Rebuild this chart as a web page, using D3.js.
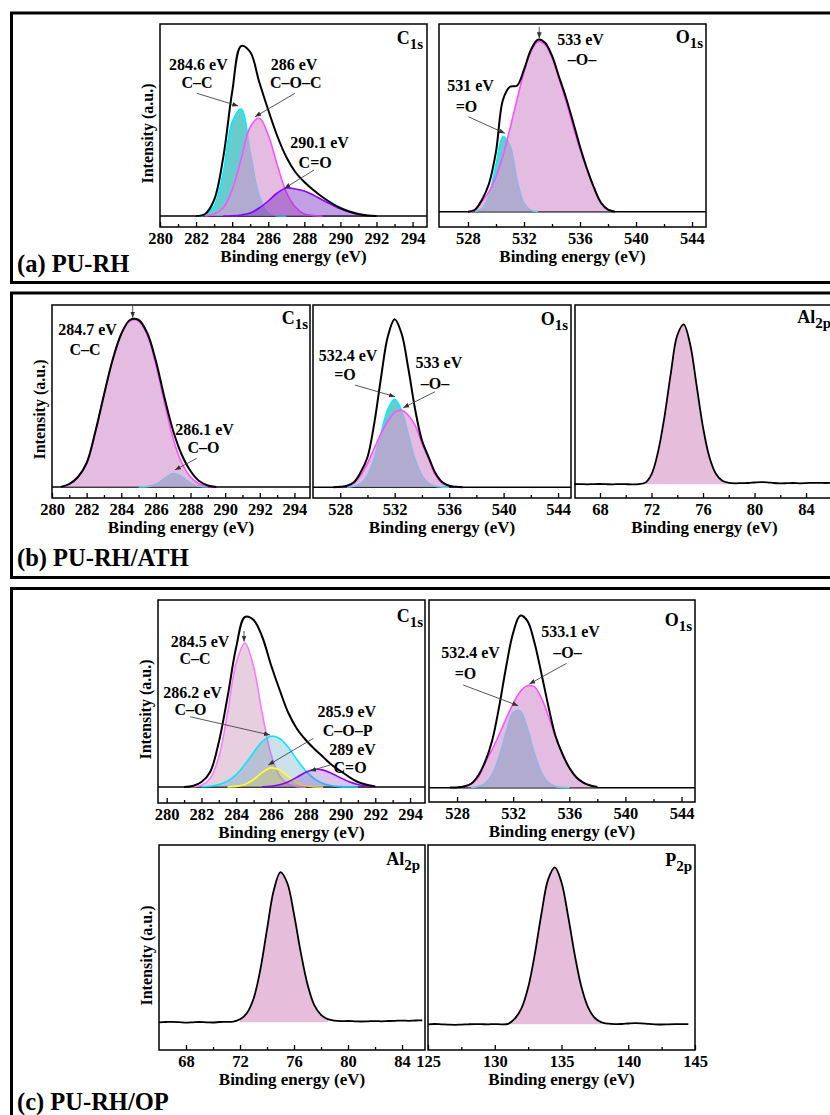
<!DOCTYPE html>
<html>
<head>
<meta charset="utf-8">
<script src="https://cdn.jsdelivr.net/npm/d3@7"></script>
<style>
  body { margin: 0; background: #fff; }
  svg text { font-family: "Liberation Serif", "Times New Roman", serif; font-weight: bold; fill: #000; }
</style>
</head>
<body>
<svg id="fig" width="830" height="1115"></svg>
<script>
// ---- tick values ----
const c1sMajor = [280, 282, 284, 286, 288, 290, 292, 294];
const c1sMinor = [281, 283, 285, 287, 289, 291, 293];
const o1sMajor = [528, 532, 536, 540, 544];
const o1sMinor = [530, 534, 538, 542];
const al2pMajor = [68, 72, 76, 80, 84];
const al2pMinor = [70, 74, 78, 82];
const p2pMajor = [125, 130, 135, 140, 145];
const p2pMinor = [127.5, 132.5, 137.5, 142.5];

// ---- (a) PU-RH, C1s ----
const aC1sEnergy = [282, 282.5, 283, 283.5, 284, 284.5, 285, 285.5, 286, 286.5, 287, 287.5, 288, 288.5, 289, 289.5, 290, 290.5, 291, 291.5, 292];
const aC1sEnvelope = [0, 2, 16, 58, 124, 170, 164, 134, 106, 80, 59, 44, 34, 26, 19, 13, 8, 4.5, 2, 0.5, 0];
const aC1sCC = [0, 1, 10, 43, 94, 107, 64, 20, 3, 0.3, 0, null, null, null, null, null, null, null, null, null, null];
const aC1sCOC = [null, 0, 2, 8, 26, 57, 89, 98, 81, 51, 24, 9, 2, 0.5, 0, null, null, null, null, null, null];
const aC1sCO = [null, null, null, 0, 0.2, 1, 3, 8, 15, 23, 28, 27, 25, 21, 16, 11.5, 7.2, 4, 1.8, 0.5, 0];

// ---- (a) PU-RH, O1s ----
const aO1sEnergy = [528, 528.5, 529, 529.5, 530, 530.5, 531, 531.5, 532, 532.5, 533, 533.5, 534, 534.5, 535, 535.5, 536, 536.5, 537, 537.5, 538, 538.5];
const aO1sEnvelope = [0, 2, 12, 28, 60, 112, 125, 126, 142, 162, 172, 169, 156, 135, 114, 90, 65, 43, 24, 9, 2, 0];
const aO1sDouble = [null, 0.3, 3, 16.5, 47, 75, 66, 32, 8.6, 1.3, 0.1, null, null, null, null, null, null, null, null, null, null, null];
const aO1sEther = [0, 2, 10, 20, 35, 56, 83, 112, 139.5, 160, 170, 167, 154, 133, 110.6, 85.6, 62.5, 42, 24, 9, 2, 0];

// ---- (b) PU-RH/ATH, C1s ----
const bC1sEnergy = [280.5, 281, 281.5, 282, 282.5, 283, 283.5, 284, 284.5, 285, 285.5, 286, 286.5, 287, 287.5, 288, 288.5, 289, 289.5];
const bC1sEnvelope = [0, 3, 10, 24, 55, 92, 127, 153, 167, 167, 154, 126, 89, 56, 32, 16, 6, 1.5, 0];
const bC1sCC = [0, 3, 10, 24, 55, 92, 127, 153, 166, 166, 152, 122, 84, 48, 24, 10, 3, 0.5, 0];
const bC1sCO = [null, null, null, null, null, null, null, null, null, 0, 0.4, 2.8, 8.6, 13.4, 10.4, 4.1, 0.8, 0, null];

// ---- (b) PU-RH/ATH, O1s ----
const bO1sEnergy = [527.5, 528, 528.5, 529, 529.5, 530, 530.5, 531, 531.5, 532, 532.5, 533, 533.5, 534, 534.5, 535, 535.5, 536, 536.5, 537];
const bO1sEnvelope = [0, 0.5, 1.5, 5, 15, 30, 64, 110, 151, 168, 154, 119, 78, 47, 30, 14, 5, 1.5, 0.5, 0];
const bO1sDouble = [null, null, 0.2, 1, 4, 12, 29, 54, 78, 88, 77, 53, 28, 12, 4, 1, 0.2, 0, null, null];
const bO1sEther = [null, 0, 1, 4, 12, 24, 39, 54, 66, 75, 77, 72, 62, 44, 28, 12, 4, 1.2, 0.3, 0];

// ---- (b) PU-RH/ATH, Al2p ----
const bAl2pEnergy = [66, 66.5, 67, 67.5, 68, 68.5, 69, 69.5, 70, 70.5, 71, 71.5, 72, 72.5, 73, 73.5, 74, 74.5, 75, 75.5, 76, 76.5, 77, 77.5, 78, 78.5, 79, 79.5, 80, 80.5, 81, 81.5, 82, 82.5, 83, 83.5, 84, 84.5, 85, 85.5, 86];
const bAl2pCounts = [0.3, 0.2, 0, 0.2, 0.3, 0.1, 0, 0.2, 0.1, 0, 0.2, 1.5, 10, 32, 67, 111, 149, 160, 140, 99, 57, 27, 10.5, 3.5, 1.5, 1.0, 1.2, 1.3, 1.8, 2.2, 2.0, 1.3, 1.0, 1.1, 1.3, 1.0, 1.2, 1.5, 1.4, 1.3, 1.4];
const bAl2pPeakSpan = [71.5, 78];

// ---- (c) PU-RH/OP, C1s ----
const cC1sEnergy = [281, 281.5, 282, 282.5, 283, 283.5, 284, 284.5, 285, 285.5, 286, 286.5, 287, 287.5, 288, 288.5, 289, 289.5, 290, 290.5, 291, 291.5, 292];
const cC1sEnvelope = [0, 1, 5, 15, 45, 90, 140, 170, 167, 150, 122, 97, 74, 58, 47, 38, 30, 22, 16, 10, 5, 2.2, 0.4];
const cC1sCC = [0, 0.2, 1.7, 8.5, 30, 74, 124, 144, 120, 73, 33, 11, 2.6, 0.4, 0, null, null, null, null, null, null, null, null];
const cC1sCO = [null, null, 0.2, 0.8, 2.4, 5.9, 12.4, 22.5, 34.6, 45.5, 50.8, 48.5, 39.4, 27.2, 16.1, 8.1, 3.5, 1.3, 0.4, 0.1, 0, null, null];
const cC1sCOP = [null, null, null, null, null, 0, 0.6, 2.6, 7.5, 14.6, 19.1, 17, 10.3, 4.2, 1.2, 0.2, 0, null, null, null, null, null, null];
const cC1sCdO = [null, null, null, null, null, null, null, null, null, 0.2, 0.8, 2.3, 5.3, 9.9, 14.8, 17.6, 16.9, 13.6, 9.2, 5.3, 2.5, 1.0, 0.2];

// ---- (c) PU-RH/OP, O1s ----
const cO1sEnergy = [527.5, 528, 528.5, 529, 529.5, 530, 530.5, 531, 531.5, 532, 532.5, 533, 533.5, 534, 534.5, 535, 535.5, 536, 536.5, 537, 537.5, 538];
const cO1sEnvelope = [0.1, 0.3, 1.2, 4, 12, 26, 47, 81, 121, 155, 172, 167, 146, 115, 82, 52.5, 34, 20, 10.5, 5, 2.2, 0.8];
const cO1sEther = [null, 0, 1.5, 4, 10, 25, 38, 53, 69, 84, 96, 102, 101, 90, 72, 52, 34, 20, 10.5, 5, 2.2, 0.8];
const cO1sDouble = [null, null, null, 0, 1.1, 4.3, 13.3, 31.3, 55.7, 75.1, 76.8, 59.6, 35, 15.6, 5.3, 1.3, 0.3, 0, null, null, null, null];

// ---- (c) PU-RH/OP, Al2p ----
const cAl2pEnergy = [66, 66.5, 67, 67.5, 68, 68.5, 69, 69.5, 70, 70.5, 71, 71.5, 72, 72.5, 73, 73.5, 74, 74.5, 75, 75.5, 76, 76.5, 77, 77.5, 78, 78.5, 79, 79.5, 80, 80.5, 81, 81.5, 82, 82.5, 83, 83.5, 84, 84.5, 85, 85.5];
const cAl2pCounts = [0, 0.3, 0.5, 0.2, -0.3, 0, 0.3, 0, -0.2, 0.3, 0.4, 0.6, 3, 9, 23.6, 52.3, 92.9, 132, 150.2, 139.3, 107.9, 69.9, 37.8, 17.1, 7.5, 3.1, 1.6, 1.2, 1.3, 1.0, 0.8, 1.0, 1.2, 1.0, 1.3, 1.5, 1.7, 1.5, 1.8, 2.0];
const cAl2pPeakSpan = [72, 78.5];

// ---- (c) PU-RH/OP, P2p ----
const cP2pEnergy = [125, 125.5, 126, 126.5, 127, 127.5, 128, 128.5, 129, 129.5, 130, 130.5, 131, 131.5, 132, 132.5, 133, 133.5, 134, 134.5, 135, 135.5, 136, 136.5, 137, 137.5, 138, 138.5, 139, 139.5, 140, 140.5, 141, 141.5, 142, 142.5, 143, 143.5, 144, 144.5];
const cP2pCounts = [0, 0.3, 0, -0.3, -0.5, -0.3, 0, 0.2, 0.1, 0, 0.2, 0, 0.5, 5.7, 15.9, 36.7, 70.1, 110.8, 144.9, 156.9, 141.9, 107.8, 68.9, 37, 16.7, 6.3, 2, 0.6, 0.2, 0.3, 0.8, 1.2, 1, 0.4, 0, -0.2, 0, 0.1, 0.1, 0.2];
const cP2pPeakSpan = [131, 138];

// ---- styles ----
const cyanStd = { stroke: "#00f0ff", fill: "rgba(0,170,170,0.6)" };
const pinkStd = { stroke: "#ff50ff", fill: "rgba(214,155,210,0.67)" };
const purpleStd = { stroke: "#8c00ff", fill: "rgba(120,40,190,0.45)" };
const pinkC = { stroke: "#ff77ff", fill: "rgba(200,150,185,0.45)" };
const cyanC = { stroke: "#00eaff", fill: "rgba(80,160,190,0.3)" };
const yellowC = { stroke: "#ffff30", fill: "rgba(200,200,60,0.3)" };
const purpleC = { stroke: "#9000ff", fill: "rgba(130,60,200,0.3)" };
const peakFill = "#e6bedc";

const svg = d3.select("#fig");

svg.append("defs").append("marker")
  .attr("id", "arr")
  .attr("viewBox", "0 0 10 10")
  .attr("refX", 10).attr("refY", 5)
  .attr("markerUnits", "userSpaceOnUse")
  .attr("markerWidth", 6).attr("markerHeight", 6)
  .attr("orient", "auto")
  .append("path").attr("d", "M0,1 L10,5 L0,9 Z").attr("fill", "#333");

// section boxes
const sections = [
  { label: "(a) PU-RH", top: 13, bottom: 282.5, ly: 271.5 },
  { label: "(b) PU-RH/ATH", top: 293, bottom: 577.5, ly: 565.5 },
  { label: "(c) PU-RH/OP", top: 588.5, bottom: 1130, ly: 1110 }
];
sections.forEach(s => {
  svg.append("rect")
    .attr("x", 11.5).attr("y", s.top)
    .attr("width", 840).attr("height", s.bottom - s.top)
    .attr("fill", "none").attr("stroke", "#000").attr("stroke-width", 3);
  svg.append("text").attr("x", 17).attr("y", s.ly)
    .attr("font-size", 24.5).text(s.label);
});

const zip = (e, v) => e.map((d, i) => [d, v[i]]);

const panels = [
  { x0: 160, x1: 427, y0: 24, y1: 227, zero: 216, dom: [280, 294.8],
    major: c1sMajor, minor: c1sMinor, tag: ["C", "1s"], tagX: 423, tagY: 43.5, yTitle: true,
    comps: [
      { e: aC1sEnergy, v: aC1sCC, s: cyanStd },
      { e: aC1sEnergy, v: aC1sCOC, s: pinkStd },
      { e: aC1sEnergy, v: aC1sCO, s: purpleStd }
    ],
    env: { e: aC1sEnergy, v: aC1sEnvelope },
    notes: [
      ["284.6 eV", 282.13, 145.8], ["C–C", 282.05, 128],
      ["286 eV", 287.43, 145.8], ["C–O–C", 287.52, 127.7],
      ["290.1 eV", 288.84, 67.7], ["C=O", 288.6, 47.7]
    ],
    arrows: [[282.04, 122.7, 284.34, 110], [287.48, 122.7, 285.27, 99.3], [288.54, 46, 286.9, 27.7]]
  },
  { x0: 439, x1: 706, y0: 24, y1: 227, zero: 211.7, dom: [525.93, 545],
    major: o1sMajor, minor: o1sMinor, tag: ["O", "1s"], tagX: 703, tagY: 43,
    comps: [
      { e: aO1sEnergy, v: aO1sDouble, s: cyanStd },
      { e: aO1sEnergy, v: aO1sEther, s: pinkStd }
    ],
    env: { e: aO1sEnergy, v: aO1sEnvelope },
    notes: [
      ["533 eV", 536.04, 167], ["–O–", 536.14, 146.7],
      ["531 eV", 528.18, 120.5], ["=O", 527.89, 100]
    ],
    arrows: [[533.09, 185, 533.09, 173.4], [528.02, 95, 530.64, 78.4]]
  },
  { x0: 52, x1: 310, y0: 305, y1: 498, zero: 487, dom: [280, 294.9],
    major: c1sMajor, minor: c1sMinor, tag: ["C", "1s"], tagX: 308, tagY: 324, yTitle: true,
    comps: [
      { e: bC1sEnergy, v: bC1sCO, s: cyanStd },
      { e: bC1sEnergy, v: bC1sCC, s: pinkStd }
    ],
    env: { e: bC1sEnergy, v: bC1sEnvelope },
    notes: [
      ["284.7 eV", 282.05, 152], ["C–C", 281.91, 132],
      ["286.1 eV", 288.81, 52], ["C–O", 288.75, 33.7]
    ],
    arrows: [[284.66, 182, 284.66, 169.3], [288.36, 28.7, 287.1, 17]]
  },
  { x0: 313, x1: 571, y0: 305, y1: 498, zero: 487.3, dom: [526, 544.95],
    major: o1sMajor, minor: o1sMinor, tag: ["O", "1s"], tagX: 568, tagY: 325,
    comps: [
      { e: bO1sEnergy, v: bO1sDouble, s: cyanStd },
      { e: bO1sEnergy, v: bO1sEther, s: pinkStd }
    ],
    env: { e: bO1sEnergy, v: bO1sEnvelope },
    notes: [
      ["532.4 eV", 528.57, 126.3], ["=O", 528.35, 107.3],
      ["533 eV", 535.25, 119], ["–O–", 534.96, 98.3]
    ],
    arrows: [[529.08, 102.3, 532.02, 90.6], [534.96, 95.6, 532.63, 79.6]]
  },
  { x0: 575, x1: 834, y0: 305, y1: 498, zero: 484.3, dom: [66.06, 86.17],
    major: al2pMajor, minor: al2pMinor, tag: ["Al", "2p"], tagX: 831, tagY: 323.3,
    data: { e: bAl2pEnergy, v: bAl2pCounts, span: bAl2pPeakSpan }
  },
  { x0: 158, x1: 425, y0: 600, y1: 803, zero: 787, dom: [279.5, 294.86],
    major: c1sMajor, minor: c1sMinor, tag: ["C", "1s"], tagX: 423, tagY: 621.7, yTitle: true,
    comps: [
      { e: cC1sEnergy, v: cC1sCC, s: pinkC },
      { e: cC1sEnergy, v: cC1sCO, s: cyanC },
      { e: cC1sEnergy, v: cC1sCOP, s: yellowC },
      { e: cC1sEnergy, v: cC1sCdO, s: purpleC }
    ],
    env: { e: cC1sEnergy, v: cC1sEnvelope },
    notes: [
      ["284.5 eV", 281.92, 140.3], ["C–C", 281.63, 122.7],
      ["286.2 eV", 281.49, 89.2], ["C–O", 281.37, 72],
      ["285.9 eV", 290.36, 70], ["C–O–P", 290.41, 51.3],
      ["289 eV", 290.69, 32.2], ["C=O", 290.55, 14]
    ],
    arrows: [[284.45, 156, 284.45, 145.3], [281.34, 70.3, 285.94, 52], [288.44, 48.7, 285.85, 22], [289.4, 22, 288.25, 16]]
  },
  { x0: 429, x1: 695, y0: 600, y1: 802, zero: 787.7, dom: [526, 544.96],
    major: o1sMajor, minor: o1sMinor, tag: ["O", "1s"], tagX: 692, tagY: 625.7,
    comps: [
      { e: cO1sEnergy, v: cO1sDouble, s: cyanStd },
      { e: cO1sEnergy, v: cO1sEther, s: pinkStd }
    ],
    env: { e: cO1sEnergy, v: cO1sEnvelope },
    notes: [
      ["533.1 eV", 536.09, 151], ["–O–", 535.87, 129.4],
      ["532.4 eV", 528.96, 130], ["=O", 528.6, 108.4]
    ],
    arrows: [[535.81, 124.4, 533.15, 103.7], [528.44, 102.7, 532.36, 82]]
  },
  { x0: 159, x1: 425, y0: 845, y1: 1050, zero: 1022.3, dom: [66, 85.7],
    major: al2pMajor, minor: al2pMinor, tag: ["Al", "2p"], tagX: 420, tagY: 865, yTitle: true,
    data: { e: cAl2pEnergy, v: cAl2pCounts, span: cAl2pPeakSpan }
  },
  { x0: 428, x1: 695, y0: 845, y1: 1050, zero: 1024.3, dom: [125, 145],
    major: p2pMajor, minor: p2pMinor, tag: ["P", "2p"], tagX: 692, tagY: 866,
    data: { e: cP2pEnergy, v: cP2pCounts, span: cP2pPeakSpan }
  }
];

panels.forEach(p => {
  const g = svg.append("g");
  const x = d3.scaleLinear().domain(p.dom).range([p.x0, p.x1]);
  const y = d3.scaleLinear().domain([p.zero - p.y1, p.zero - p.y0]).range([p.y1, p.y0]);

  const curve = d3.curveCatmullRom.alpha(0.5);
  const line = d3.line().defined(d => d[1] != null)
    .x(d => x(d[0])).y(d => y(d[1])).curve(curve);
  const area = d3.area().defined(d => d[1] != null)
    .x(d => x(d[0])).y0(y(0)).y1(d => y(d[1])).curve(curve);

  if (p.comps) {
    // fitted baseline
    g.append("line")
      .attr("x1", p.x0).attr("x2", p.x1).attr("y1", y(0)).attr("y2", y(0))
      .attr("stroke", "#000").attr("stroke-width", 1.5);
    p.comps.forEach(c => {
      const pts = zip(c.e, c.v).filter(d => d[1] != null);
      g.append("path").attr("d", area(pts)).attr("fill", c.s.fill);
      g.append("path").attr("d", line(pts)).attr("fill", "none")
        .attr("stroke", c.s.stroke).attr("stroke-width", 1.6);
    });
    g.append("path").attr("d", line(zip(p.env.e, p.env.v)))
      .attr("fill", "none").attr("stroke", "#000").attr("stroke-width", 2);
  }

  if (p.data) {
    const all = zip(p.data.e, p.data.v);
    const peak = all.filter(d => d[0] >= p.data.span[0] && d[0] <= p.data.span[1]);
    g.append("path").attr("d", area(peak)).attr("fill", peakFill);
    g.append("path").attr("d", line(all)).attr("fill", "none")
      .attr("stroke", "#000").attr("stroke-width", 1.8);
  }

  // frame
  g.append("rect")
    .attr("x", p.x0).attr("y", p.y0)
    .attr("width", p.x1 - p.x0).attr("height", p.y1 - p.y0)
    .attr("fill", "none").attr("stroke", "#000").attr("stroke-width", 1.5);

  // bottom axis, ticks pointing inward
  const major = g.append("g").attr("transform", `translate(0,${p.y1})`)
    .call(d3.axisBottom(x).tickValues(p.major).tickSize(-5).tickPadding(5).tickFormat(d3.format("d")));
  major.select(".domain").remove();
  major.selectAll("line").attr("stroke-width", 1.3);
  major.selectAll("text").attr("font-size", 16.5);
  const minor = g.append("g").attr("transform", `translate(0,${p.y1})`)
    .call(d3.axisBottom(x).tickValues(p.minor).tickSize(-3).tickFormat(""));
  minor.select(".domain").remove();
  minor.selectAll("line").attr("stroke-width", 1.3);

  g.append("text")
    .attr("x", (p.x0 + p.x1) / 2).attr("y", p.y1 + 35)
    .attr("text-anchor", "middle").attr("font-size", 17)
    .text("Binding energy (eV)");

  if (p.yTitle) {
    g.append("text")
      .attr("transform", `translate(${p.x0 - 13},${(p.y0 + p.y1) / 2 + 8}) rotate(-90)`)
      .attr("text-anchor", "middle").attr("dominant-baseline", "central")
      .attr("font-size", 16)
      .text("Intensity (a.u.)");
  }

  // element tag
  const t = g.append("text").attr("x", p.tagX).attr("y", p.tagY)
    .attr("text-anchor", "end").attr("font-size", 18);
  t.append("tspan").text(p.tag[0]);
  t.append("tspan").attr("dy", 5).attr("font-size", 15).text(p.tag[1]);

  // peak annotations
  (p.notes || []).forEach(n => {
    g.append("text").attr("x", x(n[1])).attr("y", y(n[2]))
      .attr("text-anchor", "middle").attr("font-size", 16).text(n[0]);
  });
  (p.arrows || []).forEach(a => {
    g.append("line")
      .attr("x1", x(a[0])).attr("y1", y(a[1]))
      .attr("x2", x(a[2])).attr("y2", y(a[3]))
      .attr("stroke", "#444").attr("stroke-width", 0.9)
      .attr("marker-end", "url(#arr)");
  });
});
</script>
</body>
</html>
